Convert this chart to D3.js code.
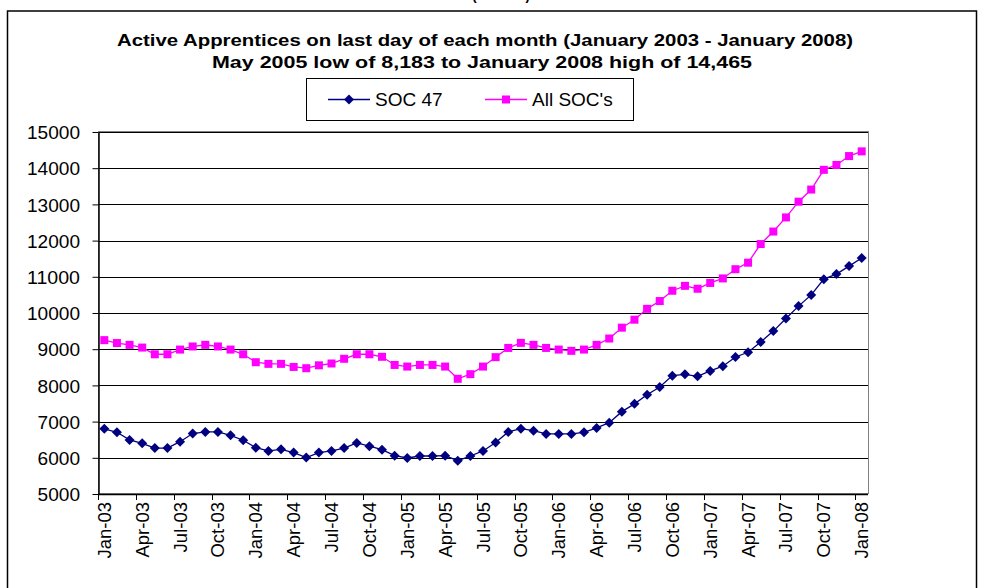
<!DOCTYPE html>
<html>
<head>
<meta charset="utf-8">
<script src="https://cdn.jsdelivr.net/npm/d3@7"></script>
<style>
  body { margin: 0; background: #fff; }
  svg text { font-family: Arial, "Liberation Sans", sans-serif; }
</style>
</head>
<body>
<div id="chart"></div>
<script>
// mois (categories) Jan-03 .. Jan-08
var months = [
  "Jan-03","Feb-03","Mar-03","Apr-03","May-03","Jun-03","Jul-03","Aug-03","Sep-03","Oct-03","Nov-03","Dec-03",
  "Jan-04","Feb-04","Mar-04","Apr-04","May-04","Jun-04","Jul-04","Aug-04","Sep-04","Oct-04","Nov-04","Dec-04",
  "Jan-05","Feb-05","Mar-05","Apr-05","May-05","Jun-05","Jul-05","Aug-05","Sep-05","Oct-05","Nov-05","Dec-05",
  "Jan-06","Feb-06","Mar-06","Apr-06","May-06","Jun-06","Jul-06","Aug-06","Sep-06","Oct-06","Nov-06","Dec-06",
  "Jan-07","Feb-07","Mar-07","Apr-07","May-07","Jun-07","Jul-07","Aug-07","Sep-07","Oct-07","Nov-07","Dec-07",
  "Jan-08"
];

// SOC 47
var soc47 = [
  6800,6705,6495,6400,6270,6270,6445,6670,6715,6715,
  6620,6485,6280,6190,6235,6145,6005,6145,6190,6270,
  6410,6320,6225,6060,5995,6050,6050,6060,5920,6050,
  6190,6420,6715,6805,6750,6660,6660,6660,6705,6825,
  6970,7275,7490,7740,7955,8270,8305,8250,8400,8530,
  8785,8915,9200,9500,9850,10190,10500,10935,11075,11295,
  11520
];

// All SOC's
var allSoc = [
  9250,9170,9120,9045,8860,8860,8990,9075,9120,9075,
  8990,8860,8640,8595,8595,8510,8475,8555,8605,8735,
  8860,8860,8790,8565,8520,8565,8565,8520,8183,8310,
  8520,8780,9035,9175,9120,9035,8990,8955,8990,9120,
  9295,9595,9815,10115,10330,10615,10750,10670,10830,10955,
  11210,11390,11905,12250,12640,13075,13410,13955,14090,14335,
  14465
];

var yTicks = [5000,6000,7000,8000,9000,10000,11000,12000,13000,14000,15000];
var titleLines = [
  "Active Apprentices on last day of each month (January 2003 - January 2008)",
  "May 2005 low of 8,183  to January 2008 high of 14,465"
];
var seriesNames = ["SOC 47", "All SOC's"];

var W = 982, H = 588;
var svg = d3.select('#chart').append('svg').attr('width', W).attr('height', H);

// cadre exterieur
svg.append('rect').attr('x', 7.5).attr('y', 11).attr('width', 969).attr('height', 600)
   .attr('fill', 'none').attr('stroke', '#000').attr('stroke-width', 1.5);

// texte coupe en haut (deja coupe dans l'original)
svg.append('text').attr('x', 501).attr('y', 0).attr('text-anchor', 'middle')
   .attr('font-size', 16).attr('font-weight', 'bold')
   .attr('textLength', 58).attr('lengthAdjust', 'spacingAndGlyphs')
   .text("(SOC 47)");

// titre
svg.append('text').attr('x', 485).attr('y', 46).attr('text-anchor', 'middle')
   .attr('font-size', 16.5).attr('font-weight', 'bold')
   .attr('textLength', 736).attr('lengthAdjust', 'spacingAndGlyphs')
   .text(titleLines[0]);
svg.append('text').attr('x', 482).attr('y', 68).attr('text-anchor', 'middle')
   .attr('font-size', 16.5).attr('font-weight', 'bold')
   .attr('textLength', 540).attr('lengthAdjust', 'spacingAndGlyphs')
   .text(titleLines[1]);

// echelles
var x = d3.scaleBand().domain(months).range([98, 868]).padding(0);
var y = d3.scaleLinear().domain([5000, 15000]).range([494, 132]);
var bw = x.bandwidth();
function cx(i){ return x(months[i]) + bw / 2; }

// grille
svg.append('g').selectAll('line').data(yTicks.slice(1)).enter().append('line')
   .attr('x1', 98).attr('x2', 868)
   .attr('y1', function(d){ return Math.round(y(d)) + 0.5; })
   .attr('y2', function(d){ return Math.round(y(d)) + 0.5; })
   .attr('stroke', '#000').attr('stroke-width', 1);

// bordure zone de trace
svg.append('rect').attr('x', 98.5).attr('y', 131.5).attr('width', 770).attr('height', 362)
   .attr('fill', 'none').attr('stroke', '#808080').attr('stroke-width', 1);

// axe y
var yAxis = d3.axisLeft(y).tickValues(yTicks).tickSize(6).tickSizeOuter(0).tickFormat(d3.format('d'));
var gy = svg.append('g').attr('transform', 'translate(98.5,0)').call(yAxis)
   .attr('font-size', 19).attr('font-family', 'Arial, "Liberation Sans", sans-serif');
gy.select('.domain').attr('stroke', '#000').attr('stroke-width', 1.5);
gy.selectAll('.tick line').attr('stroke', '#000');
gy.selectAll('.tick text').style('font-size', '19px')
  .attr('fill', '#000').attr('x', -18.5).attr('dy', '0.35em')
  .attr('textLength', function(d){ return String(d).length * 10.6; })
  .attr('lengthAdjust', 'spacingAndGlyphs');

// axe x
svg.append('line').attr('x1', 98).attr('x2', 868).attr('y1', 494.5).attr('y2', 494.5)
   .attr('stroke', '#000').attr('stroke-width', 1.5);
var tickIdx = months.map(function(d, i){ return i; }).filter(function(i){ return i % 3 === 0; });
svg.append('g').selectAll('line').data(tickIdx).enter().append('line')
   .attr('x1', function(i){ return Math.round(x(months[i])) + 0.5; })
   .attr('x2', function(i){ return Math.round(x(months[i])) + 0.5; })
   .attr('y1', 494).attr('y2', 500).attr('stroke', '#000');
svg.append('g').selectAll('text').data(tickIdx).enter().append('text')
   .attr('transform', function(i){ return 'translate(' + (cx(i) + 6.5) + ',502) rotate(-90)'; })
   .attr('text-anchor', 'end').style('font-size', '18.5px').attr('fill', '#000')
   .text(function(i){ return months[i]; });

// series
var line = d3.line().x(function(d, i){ return cx(i); }).y(function(d){ return y(d); });

svg.append('path').datum(allSoc).attr('d', line)
   .attr('fill', 'none').attr('stroke', '#FF00FF').attr('stroke-width', 1.3);
svg.append('g').selectAll('rect').data(allSoc).enter().append('rect')
   .attr('x', function(d, i){ return cx(i) - 4; })
   .attr('y', function(d){ return y(d) - 4; })
   .attr('width', 8).attr('height', 8).attr('fill', '#FF00FF');

svg.append('path').datum(soc47).attr('d', line)
   .attr('fill', 'none').attr('stroke', '#000080').attr('stroke-width', 1.3);
var diamond = 'M0,-5L5,0L0,5L-5,0Z';
svg.append('g').selectAll('path').data(soc47).enter().append('path')
   .attr('d', diamond)
   .attr('transform', function(d, i){ return 'translate(' + cx(i) + ',' + y(d) + ')'; })
   .attr('fill', '#000080');

// legende
var lg = svg.append('g');
lg.append('rect').attr('x', 306.5).attr('y', 78.5).attr('width', 327).attr('height', 42)
  .attr('fill', '#fff').attr('stroke', '#000').attr('stroke-width', 1);
lg.append('line').attr('x1', 328).attr('x2', 370).attr('y1', 99.5).attr('y2', 99.5)
  .attr('stroke', '#000080').attr('stroke-width', 1.3);
lg.append('path').attr('d', diamond).attr('transform', 'translate(349,99.5)').attr('fill', '#000080');
lg.append('text').attr('x', 375).attr('y', 106).style('font-size', '19px').text(seriesNames[0]);
lg.append('line').attr('x1', 485).attr('x2', 527).attr('y1', 99.5).attr('y2', 99.5)
  .attr('stroke', '#FF00FF').attr('stroke-width', 1.3);
lg.append('rect').attr('x', 502).attr('y', 95.5).attr('width', 8).attr('height', 8).attr('fill', '#FF00FF');
lg.append('text').attr('x', 532).attr('y', 106).style('font-size', '19px').text(seriesNames[1]);
</script>
</body>
</html>
